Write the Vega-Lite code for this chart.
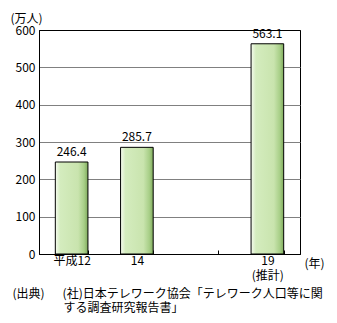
{
  "$schema": "https://vega.github.io/schema/vega-lite/v6.json",
  "width": 261,
  "height": 224,
  "autosize": {"type": "none"},
  "padding": {"left": 39, "top": 30, "right": 37, "bottom": 69},
  "config": {
    "font": "Noto Sans CJK JP",
    "view": {"stroke": "black", "strokeWidth": 1},
    "axis": {
      "labelFont": "Noto Sans CJK JP",
      "labelFontSize": 12,
      "labelColor": "black",
      "titleFont": "Noto Sans CJK JP",
      "titleFontSize": 12,
      "titleFontWeight": "normal",
      "titleColor": "black",
      "domainColor": "black",
      "tickColor": "black"
    }
  },
  "data": {
    "values": [
      {"year": "12", "value": 246.4},
      {"year": "14", "value": 285.7},
      {"year": "19", "value": 563.1}
    ]
  },
  "layer": [
    {
      "mark": {
        "type": "bar",
        "stroke": "black",
        "strokeWidth": 1,
        "fill": {
          "gradient": "linear",
          "x1": 0, "y1": 0, "x2": 1, "y2": 0,
          "stops": [
            {"offset": 0, "color": "#f6fbf0"},
            {"offset": 0.15, "color": "#d4ecbe"},
            {"offset": 0.7, "color": "#c9e4ae"},
            {"offset": 0.88, "color": "#a8cf88"},
            {"offset": 1, "color": "#7fab5c"}
          ]
        }
      },
      "encoding": {
        "x": {
          "field": "year",
          "type": "ordinal",
          "sort": null,
          "scale": {"domain": ["12", "14", "-", "19"], "paddingInner": 0.5, "paddingOuter": 0.25},
          "axis": {
            "labelAngle": 0,
            "labelPadding": 5,
            "labelLineHeight": 15,
            "labelExpr": "datum.value == '12' ? '平成12' : datum.value == '19' ? ['19', '(推計)'] : datum.value == '-' ? '' : datum.value",
            "ticks": true,
            "tickBand": "extent",
            "tickSize": -4,
            "domainColor": "black",
            "title": "(出典)　\u2002(社)日本テレワーク協会「テレワーク人口等に関",
            "titleX": -27,
            "titleY": 43,
            "titleAlign": "left",
            "titleBaseline": "alphabetic"
          }
        },
        "y": {
          "field": "value",
          "type": "quantitative",
          "scale": {"domain": [0, 600]},
          "axis": {
            "values": [0, 100, 200, 300, 400, 500, 600],
            "grid": true,
            "gridColor": {"condition": {"test": "datum.value == 0 || datum.value == 600", "value": "black"}, "value": "#808080"},
            "ticks": false,
            "labelPadding": 4,
            "title": "(万人)",
            "titleAngle": 0,
            "titleX": -29,
            "titleY": -12,
            "titleAlign": "left",
            "titleBaseline": "middle"
          }
        }
      }
    },
    {
      "mark": {"type": "text", "baseline": "bottom", "dy": -3, "fontSize": 12, "color": "black", "font": "Noto Sans CJK JP"},
      "encoding": {
        "x": {
          "field": "year",
          "type": "ordinal",
          "sort": null,
          "axis": {
            "orient": "bottom",
            "labels": false,
            "ticks": false,
            "domain": false,
            "grid": false,
            "title": "する調査研究報告書」",
            "titleX": 24,
            "titleY": 57,
            "titleAlign": "left",
            "titleBaseline": "alphabetic"
          }
        },
        "y": {
          "field": "value",
          "type": "quantitative",
          "axis": {
            "orient": "right",
            "labels": false,
            "ticks": false,
            "domain": false,
            "grid": false,
            "title": "(年)",
            "titleAngle": 0,
            "titleX": 4,
            "titleY": 233,
            "titleAlign": "left",
            "titleBaseline": "middle"
          }
        },
        "text": {"field": "value", "type": "quantitative", "format": ".1f"}
      }
    }
  ],
  "resolve": {"axis": {"x": "independent", "y": "independent"}}
}
